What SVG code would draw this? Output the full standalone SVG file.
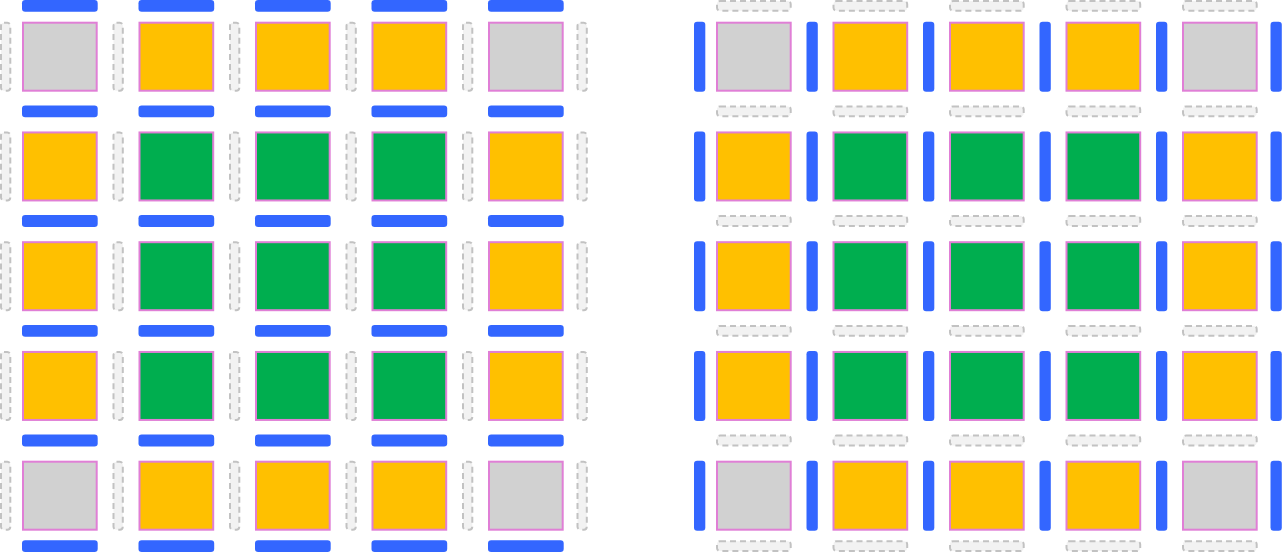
<svg xmlns="http://www.w3.org/2000/svg" width="1282" height="552" viewBox="0 0 1282 552">
<style>
.sq{stroke:#e07fd6;stroke-width:2}
.g{fill:#d1d1d1}.o{fill:#ffc000}.n{fill:#00ae4f}
.bb{fill:#3366ff}
.hb{fill:#3366ff}
.db{fill:#f2f2f2;stroke:#c2c2c2;stroke-width:2;stroke-dasharray:6 4}
</style>
<defs>
<rect id="hbar" width="75.7" height="11.8" rx="3.2"/>
<rect id="vbar" width="11.3" height="70" rx="3.2"/>
<rect id="hdash" x="1" y="1" width="73.7" height="9.8" rx="3"/>
<rect id="vdash" x="1" y="1" width="9.3" height="68" rx="3"/>
<rect id="sqr" x="1" y="1" width="73.7" height="68"/>
</defs>

<g id="left-grid">
<g id="left-squares">
<use id="L00" href="#sqr" class="sq g" x="22" y="21.7"/>
<use id="L01" href="#sqr" class="sq o" x="138.5" y="21.7"/>
<use id="L02" href="#sqr" class="sq o" x="255" y="21.7"/>
<use id="L03" href="#sqr" class="sq o" x="371.5" y="21.7"/>
<use id="L04" href="#sqr" class="sq g" x="488" y="21.7"/>
<use id="L10" href="#sqr" class="sq o" x="22" y="131.45"/>
<use id="L11" href="#sqr" class="sq n" x="138.5" y="131.45"/>
<use id="L12" href="#sqr" class="sq n" x="255" y="131.45"/>
<use id="L13" href="#sqr" class="sq n" x="371.5" y="131.45"/>
<use id="L14" href="#sqr" class="sq o" x="488" y="131.45"/>
<use id="L20" href="#sqr" class="sq o" x="22" y="241.2"/>
<use id="L21" href="#sqr" class="sq n" x="138.5" y="241.2"/>
<use id="L22" href="#sqr" class="sq n" x="255" y="241.2"/>
<use id="L23" href="#sqr" class="sq n" x="371.5" y="241.2"/>
<use id="L24" href="#sqr" class="sq o" x="488" y="241.2"/>
<use id="L30" href="#sqr" class="sq o" x="22" y="350.95"/>
<use id="L31" href="#sqr" class="sq n" x="138.5" y="350.95"/>
<use id="L32" href="#sqr" class="sq n" x="255" y="350.95"/>
<use id="L33" href="#sqr" class="sq n" x="371.5" y="350.95"/>
<use id="L34" href="#sqr" class="sq o" x="488" y="350.95"/>
<use id="L40" href="#sqr" class="sq g" x="22" y="460.7"/>
<use id="L41" href="#sqr" class="sq o" x="138.5" y="460.7"/>
<use id="L42" href="#sqr" class="sq o" x="255" y="460.7"/>
<use id="L43" href="#sqr" class="sq o" x="371.5" y="460.7"/>
<use id="L44" href="#sqr" class="sq g" x="488" y="460.7"/>
</g>
<g id="left-hbars" class="hb">
<use href="#hbar" x="22" y="0"/><use href="#hbar" x="138.5" y="0"/><use href="#hbar" x="255" y="0"/><use href="#hbar" x="371.5" y="0"/><use href="#hbar" x="488" y="0"/>
<use href="#hbar" x="22" y="105.4"/><use href="#hbar" x="138.5" y="105.4"/><use href="#hbar" x="255" y="105.4"/><use href="#hbar" x="371.5" y="105.4"/><use href="#hbar" x="488" y="105.4"/>
<use href="#hbar" x="22" y="215.1"/><use href="#hbar" x="138.5" y="215.1"/><use href="#hbar" x="255" y="215.1"/><use href="#hbar" x="371.5" y="215.1"/><use href="#hbar" x="488" y="215.1"/>
<use href="#hbar" x="22" y="324.9"/><use href="#hbar" x="138.5" y="324.9"/><use href="#hbar" x="255" y="324.9"/><use href="#hbar" x="371.5" y="324.9"/><use href="#hbar" x="488" y="324.9"/>
<use href="#hbar" x="22" y="434.6"/><use href="#hbar" x="138.5" y="434.6"/><use href="#hbar" x="255" y="434.6"/><use href="#hbar" x="371.5" y="434.6"/><use href="#hbar" x="488" y="434.6"/>
<use href="#hbar" x="22" y="540.2"/><use href="#hbar" x="138.5" y="540.2"/><use href="#hbar" x="255" y="540.2"/><use href="#hbar" x="371.5" y="540.2"/><use href="#hbar" x="488" y="540.2"/>
</g>
<g id="left-vdash" class="db">
<use href="#vdash" x="0" y="21.7"/><use href="#vdash" x="112.5" y="21.7"/><use href="#vdash" x="229" y="21.7"/><use href="#vdash" x="345.5" y="21.7"/><use href="#vdash" x="462" y="21.7"/><use href="#vdash" x="576.5" y="21.7"/>
<use href="#vdash" x="0" y="131.45"/><use href="#vdash" x="112.5" y="131.45"/><use href="#vdash" x="229" y="131.45"/><use href="#vdash" x="345.5" y="131.45"/><use href="#vdash" x="462" y="131.45"/><use href="#vdash" x="576.5" y="131.45"/>
<use href="#vdash" x="0" y="241.2"/><use href="#vdash" x="112.5" y="241.2"/><use href="#vdash" x="229" y="241.2"/><use href="#vdash" x="345.5" y="241.2"/><use href="#vdash" x="462" y="241.2"/><use href="#vdash" x="576.5" y="241.2"/>
<use href="#vdash" x="0" y="350.95"/><use href="#vdash" x="112.5" y="350.95"/><use href="#vdash" x="229" y="350.95"/><use href="#vdash" x="345.5" y="350.95"/><use href="#vdash" x="462" y="350.95"/><use href="#vdash" x="576.5" y="350.95"/>
<use href="#vdash" x="0" y="460.7"/><use href="#vdash" x="112.5" y="460.7"/><use href="#vdash" x="229" y="460.7"/><use href="#vdash" x="345.5" y="460.7"/><use href="#vdash" x="462" y="460.7"/><use href="#vdash" x="576.5" y="460.7"/>
</g>
</g>

<g id="right-grid" transform="translate(694,0)">
<g id="right-squares">
<use id="R00" href="#sqr" class="sq g" x="22" y="21.7"/>
<use id="R01" href="#sqr" class="sq o" x="138.5" y="21.7"/>
<use id="R02" href="#sqr" class="sq o" x="255" y="21.7"/>
<use id="R03" href="#sqr" class="sq o" x="371.5" y="21.7"/>
<use id="R04" href="#sqr" class="sq g" x="488" y="21.7"/>
<use id="R10" href="#sqr" class="sq o" x="22" y="131.45"/>
<use id="R11" href="#sqr" class="sq n" x="138.5" y="131.45"/>
<use id="R12" href="#sqr" class="sq n" x="255" y="131.45"/>
<use id="R13" href="#sqr" class="sq n" x="371.5" y="131.45"/>
<use id="R14" href="#sqr" class="sq o" x="488" y="131.45"/>
<use id="R20" href="#sqr" class="sq o" x="22" y="241.2"/>
<use id="R21" href="#sqr" class="sq n" x="138.5" y="241.2"/>
<use id="R22" href="#sqr" class="sq n" x="255" y="241.2"/>
<use id="R23" href="#sqr" class="sq n" x="371.5" y="241.2"/>
<use id="R24" href="#sqr" class="sq o" x="488" y="241.2"/>
<use id="R30" href="#sqr" class="sq o" x="22" y="350.95"/>
<use id="R31" href="#sqr" class="sq n" x="138.5" y="350.95"/>
<use id="R32" href="#sqr" class="sq n" x="255" y="350.95"/>
<use id="R33" href="#sqr" class="sq n" x="371.5" y="350.95"/>
<use id="R34" href="#sqr" class="sq o" x="488" y="350.95"/>
<use id="R40" href="#sqr" class="sq g" x="22" y="460.7"/>
<use id="R41" href="#sqr" class="sq o" x="138.5" y="460.7"/>
<use id="R42" href="#sqr" class="sq o" x="255" y="460.7"/>
<use id="R43" href="#sqr" class="sq o" x="371.5" y="460.7"/>
<use id="R44" href="#sqr" class="sq g" x="488" y="460.7"/>
</g>
<g id="right-hdash" class="db">
<use href="#hdash" x="22" y="0"/><use href="#hdash" x="138.5" y="0"/><use href="#hdash" x="255" y="0"/><use href="#hdash" x="371.5" y="0"/><use href="#hdash" x="488" y="0"/>
<use href="#hdash" x="22" y="105.4"/><use href="#hdash" x="138.5" y="105.4"/><use href="#hdash" x="255" y="105.4"/><use href="#hdash" x="371.5" y="105.4"/><use href="#hdash" x="488" y="105.4"/>
<use href="#hdash" x="22" y="215.1"/><use href="#hdash" x="138.5" y="215.1"/><use href="#hdash" x="255" y="215.1"/><use href="#hdash" x="371.5" y="215.1"/><use href="#hdash" x="488" y="215.1"/>
<use href="#hdash" x="22" y="324.9"/><use href="#hdash" x="138.5" y="324.9"/><use href="#hdash" x="255" y="324.9"/><use href="#hdash" x="371.5" y="324.9"/><use href="#hdash" x="488" y="324.9"/>
<use href="#hdash" x="22" y="434.6"/><use href="#hdash" x="138.5" y="434.6"/><use href="#hdash" x="255" y="434.6"/><use href="#hdash" x="371.5" y="434.6"/><use href="#hdash" x="488" y="434.6"/>
<use href="#hdash" x="22" y="540.2"/><use href="#hdash" x="138.5" y="540.2"/><use href="#hdash" x="255" y="540.2"/><use href="#hdash" x="371.5" y="540.2"/><use href="#hdash" x="488" y="540.2"/>
</g>
<g id="right-vbars" class="bb">
<use href="#vbar" x="0" y="21.7"/><use href="#vbar" x="112.5" y="21.7"/><use href="#vbar" x="229" y="21.7"/><use href="#vbar" x="345.5" y="21.7"/><use href="#vbar" x="462" y="21.7"/><use href="#vbar" x="576.5" y="21.7"/>
<use href="#vbar" x="0" y="131.45"/><use href="#vbar" x="112.5" y="131.45"/><use href="#vbar" x="229" y="131.45"/><use href="#vbar" x="345.5" y="131.45"/><use href="#vbar" x="462" y="131.45"/><use href="#vbar" x="576.5" y="131.45"/>
<use href="#vbar" x="0" y="241.2"/><use href="#vbar" x="112.5" y="241.2"/><use href="#vbar" x="229" y="241.2"/><use href="#vbar" x="345.5" y="241.2"/><use href="#vbar" x="462" y="241.2"/><use href="#vbar" x="576.5" y="241.2"/>
<use href="#vbar" x="0" y="350.95"/><use href="#vbar" x="112.5" y="350.95"/><use href="#vbar" x="229" y="350.95"/><use href="#vbar" x="345.5" y="350.95"/><use href="#vbar" x="462" y="350.95"/><use href="#vbar" x="576.5" y="350.95"/>
<use href="#vbar" x="0" y="460.7"/><use href="#vbar" x="112.5" y="460.7"/><use href="#vbar" x="229" y="460.7"/><use href="#vbar" x="345.5" y="460.7"/><use href="#vbar" x="462" y="460.7"/><use href="#vbar" x="576.5" y="460.7"/>
</g>
</g>
</svg>
